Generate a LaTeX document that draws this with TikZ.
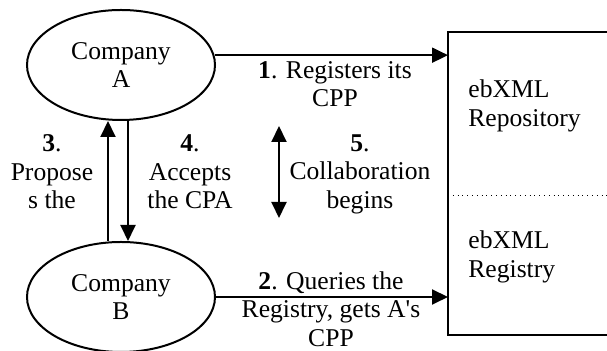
\documentclass[tikz,border=0pt]{standalone}
\usepackage{fontspec}
\setmainfont{Liberation Serif}
\usetikzlibrary{shapes.geometric,arrows.meta,calc}
\begin{document}
\begin{tikzpicture}[x=0.5pt,y=-0.5pt,font=\fontsize{12.8}{14.2}\selectfont,
	company/.style={ellipse,draw,line width=1pt,minimum width=94pt,minimum height=55pt,inner sep=0pt,align=center},
	lbl/.style={align=center,inner sep=0pt},
	flow/.style={line width=1pt,-{Triangle[length=8pt,width=7.5pt]}},
	twoway/.style={line width=1pt,{Triangle[length=8pt,width=7.5pt]}-{Triangle[length=8pt,width=7.5pt]}}]
		\useasboundingbox (0,0) rectangle (607,351);
		\node[company] (A) at (121,65) {\rule{0pt}{8pt}Company\\A};
		\node[company] (B) at (121,297) {\rule{0pt}{8pt}Company\\B};
		\coordinate (boxtop) at (448,32);
		\coordinate (boxbot) at (448,335);
		\coordinate (boxmid) at (448,195);
		\draw[line width=1pt] (607,32) -- (boxtop) -- (boxbot) -- (607,335);
		\draw[dotted] (boxmid) -- (607,195);
		\node[lbl,anchor=west,align=left] (repo) at (468,106) {ebXML\\Repository};
		\node[lbl,anchor=west,align=left] (reg) at (468,257) {ebXML\\Registry};
		
		\draw[flow] (A.6) -- (A.6 -| boxtop);
		\draw[flow] (B.east) -- (B.east -| boxbot);
		\draw[flow] ($(B.north)+(-13,0)$) -- ($(A.south)+(-13,0)$);
		\draw[flow] ($(A.south)+(7,0)$) -- ($(B.north)+(7,0)$);
		\coordinate (c5top) at (279,126);
		\coordinate (c5bot) at (279,218);
		\draw[twoway] (c5top) -- (c5bot);
		
		\node[lbl] (l1) at (335,84) {\textbf{1}. Registers its\\CPP};
		\node[lbl] (l2) at (331,309) {\textbf{2}. Queries the\\Registry, gets A\textquotesingle s\\CPP};
		\node[lbl] (l3) at (52,172) {\textbf{3}.\\Propose\\s the};
		\node[lbl] (l4) at (190,172) {\textbf{4}.\\Accepts\\the CPA};
		\node[lbl] (l5) at (360,174) {\textbf{5}.\\Collaboration\\begins};
\end{tikzpicture}
\end{document}
